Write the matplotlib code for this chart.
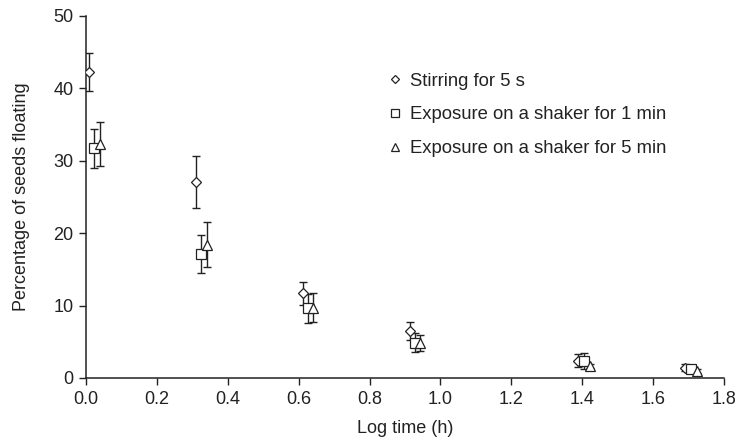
import matplotlib
matplotlib.use("Agg")
import matplotlib.pyplot as plt

plt.rcParams['font.family'] = ['Liberation Sans', 'DejaVu Sans']

# Data
stir_x = [0.008, 0.31, 0.611, 0.913, 1.389, 1.69]
stir_y = [42.3, 27.1, 11.7, 6.5, 2.4, 1.4]
stir_err = [2.6, 3.6, 1.6, 1.3, 0.9, 0.5]

shake1_x = [0.023, 0.324, 0.626, 0.929, 1.406, 1.707]
shake1_y = [31.7, 17.1, 9.6, 4.9, 2.3, 1.2]
shake1_err = [2.7, 2.6, 2.0, 1.35, 1.1, 0.4]

shake5_x = [0.039, 0.34, 0.64, 0.943, 1.422, 1.723]
shake5_y = [32.3, 18.4, 9.7, 4.8, 1.7, 1.0]
shake5_err = [3.0, 3.1, 2.0, 1.1, 0.3, 0.3]

labels = ['Stirring for 5 s',
          'Exposure on a shaker for 1 min',
          'Exposure on a shaker for 5 min']

fig = plt.figure(figsize=(7.38, 4.43), dpi=100)
ax = fig.add_axes([86/738, 1 - 378/443, (724-86)/738, (378-16)/443])

series = [(stir_x, stir_y, stir_err, 'D', 5.5),
          (shake1_x, shake1_y, shake1_err, 's', 7),
          (shake5_x, shake5_y, shake5_err, '^', 7)]
handles = []
for (x, y, e, m, ms), lab in zip(series, labels):
    ax.errorbar(x, y, yerr=e, fmt='none', ecolor='#222222', elinewidth=1.0,
                capsize=3, capthick=1.0, zorder=2)
    h, = ax.plot(x, y, linestyle='none', marker=m, markersize=ms,
                 markerfacecolor='white', markeredgecolor='#222222',
                 markeredgewidth=0.9, zorder=3, label=lab)
    handles.append(h)

ax.set_xlim(0, 1.8)
ax.set_ylim(0, 50)
ax.set_xticks([0.0, 0.2, 0.4, 0.6, 0.8, 1.0, 1.2, 1.4, 1.6, 1.8])
ax.set_xticklabels(['0.0', '0.2', '0.4', '0.6', '0.8', '1.0', '1.2', '1.4', '1.6', '1.8'])
ax.set_yticks([0, 10, 20, 30, 40, 50])
ax.tick_params(direction='out', length=5, width=1, labelsize=13, colors='#222222', pad=4)
for s in ['top', 'right']:
    ax.spines[s].set_visible(False)
for s in ['left', 'bottom']:
    ax.spines[s].set_linewidth(1.1)
    ax.spines[s].set_color('#222222')

ax.set_xlabel('Log time (h)', fontsize=13, color='#222222', labelpad=9)
ax.set_ylabel('Percentage of seeds floating', fontsize=13, color='#222222', labelpad=17)

leg = ax.legend(handles=handles, loc='upper left', bbox_to_anchor=(0.4495, 0.889),
                frameon=False, fontsize=13.3, handlelength=0.6, handletextpad=0.5,
                labelspacing=0.9, markerscale=0.75)
for t in leg.get_texts():
    t.set_color('#222222')

fig.savefig('out.png', dpi=100)
